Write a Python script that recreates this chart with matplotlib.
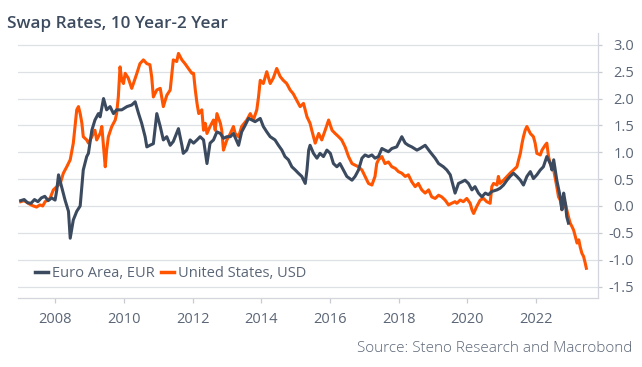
import matplotlib
matplotlib.use("Agg")
import matplotlib.pyplot as plt

plt.rcParams['font.family'] = ['Open Sans', 'DejaVu Sans']
plt.rcParams['axes.unicode_minus'] = False

# Data (decimal years, spread in percentage points)
eur_years = [2007.00, 2007.10, 2007.20, 2007.30, 2007.40, 2007.50, 2007.60, 2007.70, 2007.80, 2007.90,
             2008.00, 2008.05, 2008.10, 2008.19, 2008.29, 2008.39, 2008.44, 2008.53, 2008.63, 2008.73,
             2008.78, 2008.82, 2008.92, 2008.97, 2009.07, 2009.16, 2009.26, 2009.31, 2009.41, 2009.50,
             2009.60, 2009.70, 2009.79, 2009.94, 2010.09, 2010.23, 2010.33, 2010.43, 2010.52, 2010.62,
             2010.67, 2010.76, 2010.86, 2010.96, 2011.06, 2011.15, 2011.25, 2011.35, 2011.44, 2011.59,
             2011.69, 2011.73, 2011.83, 2011.93, 2012.03, 2012.13, 2012.22, 2012.32, 2012.42, 2012.51,
             2012.61, 2012.71, 2012.81, 2012.90, 2013.00, 2013.10, 2013.19, 2013.34, 2013.43, 2013.53,
             2013.63, 2013.73, 2013.82, 2013.97, 2014.06, 2014.16, 2014.26, 2014.40, 2014.50, 2014.60,
             2014.69, 2014.79, 2014.89, 2014.99, 2015.08, 2015.18, 2015.28, 2015.33, 2015.38, 2015.42,
             2015.52, 2015.62, 2015.71, 2015.81, 2015.91, 2016.01, 2016.10, 2016.20, 2016.29, 2016.39,
             2016.49, 2016.64, 2016.73, 2016.83, 2016.93, 2017.02, 2017.12, 2017.22, 2017.31, 2017.41,
             2017.51, 2017.60, 2017.70, 2017.80, 2017.94, 2018.09, 2018.19, 2018.28, 2018.38, 2018.53,
             2018.62, 2018.77, 2018.91, 2019.06, 2019.16, 2019.30, 2019.40, 2019.50, 2019.59, 2019.64,
             2019.74, 2019.84, 2019.93, 2020.03, 2020.13, 2020.22, 2020.32, 2020.42, 2020.52, 2020.61,
             2020.71, 2020.86, 2020.95, 2021.05, 2021.15, 2021.24, 2021.34, 2021.44, 2021.54, 2021.63,
             2021.73, 2021.83, 2021.92, 2022.02, 2022.12, 2022.21, 2022.31, 2022.41, 2022.46, 2022.51,
             2022.60, 2022.70, 2022.75, 2022.80, 2022.85, 2022.89, 2022.94]
eur_vals = [0.10, 0.12, 0.06, 0.05, 0.12, 0.08, 0.15, 0.18, 0.10, 0.15,
            0.11, 0.30, 0.58, 0.36, 0.11, -0.10, -0.60, -0.26, -0.10, 0.00,
            0.36, 0.67, 0.92, 0.98, 1.41, 1.60, 1.72, 1.66, 2.00, 1.79,
            1.85, 1.72, 1.79, 1.79, 1.85, 1.88, 1.94, 1.72, 1.54, 1.29,
            1.10, 1.13, 1.16, 1.72, 1.48, 1.23, 1.29, 1.13, 1.20, 1.44,
            1.13, 0.98, 1.04, 1.23, 1.17, 1.23, 1.29, 1.23, 0.79, 1.17,
            1.23, 1.38, 1.35, 1.26, 1.29, 1.29, 1.35, 1.13, 1.38, 1.50,
            1.63, 1.60, 1.57, 1.63, 1.48, 1.38, 1.29, 1.23, 1.13, 1.04,
            0.92, 0.86, 0.73, 0.67, 0.61, 0.55, 0.42, 0.67, 1.04, 1.13,
            0.98, 0.89, 0.98, 0.92, 1.04, 0.98, 0.79, 0.73, 0.79, 0.67,
            0.55, 0.48, 0.55, 0.67, 0.89, 0.95, 0.92, 0.95, 0.89, 0.92,
            1.07, 1.04, 1.01, 1.07, 1.10, 1.29, 1.17, 1.13, 1.10, 1.04,
            1.07, 1.13, 1.01, 0.89, 0.79, 0.73, 0.67, 0.58, 0.36, 0.24,
            0.42, 0.45, 0.48, 0.42, 0.30, 0.36, 0.24, 0.17, 0.24, 0.21,
            0.27, 0.30, 0.33, 0.39, 0.48, 0.55, 0.61, 0.55, 0.48, 0.39,
            0.55, 0.64, 0.51, 0.58, 0.67, 0.73, 0.92, 0.79, 0.67, 0.86,
            0.48, 0.17, -0.07, 0.24, 0.05, -0.20, -0.32]

usd_years = [2007.00, 2007.10, 2007.22, 2007.30, 2007.37, 2007.46, 2007.56, 2007.64, 2007.71, 2007.85,
             2007.95, 2008.05, 2008.15, 2008.24, 2008.34, 2008.44, 2008.53, 2008.58, 2008.63, 2008.68,
             2008.73, 2008.78, 2008.82, 2008.92, 2008.97, 2009.07, 2009.16, 2009.21, 2009.31, 2009.36,
             2009.41, 2009.46, 2009.50, 2009.55, 2009.65, 2009.75, 2009.79, 2009.84, 2009.89, 2009.94,
             2009.99, 2010.04, 2010.13, 2010.23, 2010.28, 2010.38, 2010.47, 2010.57, 2010.67, 2010.76,
             2010.81, 2010.86, 2010.96, 2011.06, 2011.15, 2011.25, 2011.35, 2011.39, 2011.44, 2011.54,
             2011.59, 2011.69, 2011.78, 2011.88, 2011.98, 2012.03, 2012.08, 2012.13, 2012.18, 2012.27,
             2012.32, 2012.37, 2012.42, 2012.51, 2012.61, 2012.66, 2012.71, 2012.81, 2012.85, 2012.90,
             2013.00, 2013.10, 2013.19, 2013.24, 2013.34, 2013.43, 2013.58, 2013.68, 2013.77, 2013.87,
             2013.92, 2013.97, 2014.06, 2014.16, 2014.26, 2014.35, 2014.45, 2014.55, 2014.64, 2014.74,
             2014.84, 2014.93, 2015.03, 2015.13, 2015.23, 2015.33, 2015.42, 2015.47, 2015.57, 2015.67,
             2015.76, 2015.86, 2015.96, 2016.06, 2016.15, 2016.25, 2016.34, 2016.44, 2016.54, 2016.64,
             2016.73, 2016.83, 2016.93, 2017.02, 2017.12, 2017.22, 2017.31, 2017.36, 2017.41, 2017.51,
             2017.60, 2017.70, 2017.80, 2017.90, 2017.99, 2018.09, 2018.19, 2018.28, 2018.38, 2018.48,
             2018.57, 2018.67, 2018.77, 2018.87, 2018.96, 2019.06, 2019.16, 2019.25, 2019.35, 2019.45,
             2019.54, 2019.64, 2019.69, 2019.79, 2019.88, 2019.98, 2020.08, 2020.13, 2020.18, 2020.27,
             2020.37, 2020.47, 2020.56, 2020.66, 2020.71, 2020.76, 2020.86, 2020.90, 2020.95, 2021.05,
             2021.15, 2021.24, 2021.34, 2021.44, 2021.49, 2021.54, 2021.59, 2021.63, 2021.68, 2021.73,
             2021.83, 2021.92, 2021.97, 2022.02, 2022.12, 2022.17, 2022.26, 2022.31, 2022.36, 2022.41,
             2022.51, 2022.60, 2022.65, 2022.70, 2022.75, 2022.85, 2022.89, 2022.94, 2022.99, 2023.04,
             2023.09, 2023.14, 2023.19, 2023.24, 2023.28, 2023.33, 2023.38, 2023.43, 2023.46]
usd_vals = [0.08, 0.10, 0.05, 0.02, 0.00, -0.02, 0.02, 0.00, 0.08, 0.14,
            0.30, 0.36, 0.42, 0.61, 0.73, 0.86, 1.17, 1.48, 1.79, 1.85,
            1.72, 1.54, 1.29, 1.23, 1.17, 1.29, 1.41, 1.23, 1.35, 1.48,
            1.10, 0.73, 1.04, 1.29, 1.48, 1.60, 1.72, 2.03, 2.59, 2.34,
            2.28, 2.47, 2.38, 2.19, 2.28, 2.47, 2.65, 2.72, 2.65, 2.63,
            2.41, 2.03, 2.16, 2.19, 1.85, 2.06, 2.16, 2.41, 2.72, 2.69,
            2.84, 2.72, 2.65, 2.56, 2.47, 2.47, 2.16, 1.91, 1.72, 1.79,
            1.41, 1.54, 1.35, 1.48, 1.60, 1.41, 1.72, 1.54, 1.41, 1.04,
            1.23, 1.35, 1.48, 1.35, 1.29, 1.48, 1.60, 1.72, 1.60, 1.79,
            2.03, 2.34, 2.28, 2.50, 2.28, 2.38, 2.56, 2.41, 2.34, 2.28,
            2.16, 2.09, 1.97, 1.85, 1.91, 1.66, 1.54, 1.41, 1.17, 1.35,
            1.23, 1.41, 1.60, 1.41, 1.35, 1.29, 1.23, 1.10, 0.92, 0.79,
            0.76, 0.73, 0.67, 0.55, 0.42, 0.39, 0.55, 0.79, 0.86, 0.92,
            0.79, 0.82, 0.73, 0.70, 0.64, 0.61, 0.55, 0.58, 0.45, 0.36,
            0.42, 0.30, 0.24, 0.30, 0.17, 0.14, 0.20, 0.17, 0.11, 0.02,
            0.05, 0.08, 0.05, 0.11, 0.08, 0.14, 0.05, -0.07, -0.14, -0.01,
            0.11, 0.14, 0.08, 0.05, 0.36, 0.42, 0.39, 0.55, 0.42, 0.48,
            0.55, 0.61, 0.67, 0.73, 0.86, 0.98, 1.17, 1.29, 1.41, 1.48,
            1.35, 1.29, 1.17, 0.98, 0.95, 1.04, 1.13, 1.17, 0.92, 0.79,
            0.67, 0.36, 0.17, 0.11, -0.07, 0.05, -0.07, -0.20, -0.32, -0.38,
            -0.45, -0.57, -0.69, -0.63, -0.76, -0.88, -0.94, -1.07, -1.16]

year_ticks = [2008, 2010, 2012, 2014, 2016, 2018, 2020, 2022]
value_ticks = [-1.5, -1.0, -0.5, 0.0, 0.5, 1.0, 1.5, 2.0, 2.5, 3.0]

eur_color = '#3b4a5f'
usd_color = '#ff5400'
text_color = '#5b6676'
grid_color = '#dde0e5'

fig = plt.figure(figsize=(6.42, 3.67), dpi=100)
ax = fig.add_axes([0.028, 0.187, 0.9035, 0.723])

ax.plot(usd_years, usd_vals, color=usd_color, lw=2.2, label='United States, USD', zorder=2)
ax.plot(eur_years, eur_vals, color=eur_color, lw=2.2, label='Euro Area, EUR', zorder=3)

ax.set_xlim(2006.92, 2023.80)
ax.set_ylim(-1.72, 3.22)
ax.set_xticks(year_ticks)
ax.set_xticklabels([str(y) for y in year_ticks])
ax.set_yticks(value_ticks)
ax.set_yticklabels(['%.1f' % v for v in value_ticks])

ax.yaxis.tick_right()
ax.grid(axis='y', color=grid_color, lw=0.9)
ax.set_axisbelow(True)
for s in ['top', 'left']:
    ax.spines[s].set_visible(False)
for s in ['bottom', 'right']:
    ax.spines[s].set_color('#d3d7dd')
    ax.spines[s].set_linewidth(0.9)

ax.tick_params(axis='x', colors='#c8ccd2', labelcolor=text_color, labelsize=10.5,
               length=3.5, width=0.9, pad=6)
ax.tick_params(axis='y', colors='#c8ccd2', labelcolor=text_color, labelsize=10.5,
               length=3, width=0.9, pad=23)
for lab in ax.get_yticklabels():
    lab.set_ha('right')

handles, labels = ax.get_legend_handles_labels()
leg = ax.legend(handles[::-1], labels[::-1], loc='center left', bbox_to_anchor=(0.029, 0.092),
                ncol=2, frameon=False, fontsize=10.5, handlelength=0.9, handletextpad=0.25,
                columnspacing=0.45, borderpad=0, borderaxespad=0)
for t in leg.get_texts():
    t.set_color(text_color)
for line in leg.get_lines():
    line.set_linewidth(2.5)

fig.text(7 / 642, 1 - 27.5 / 367, 'Swap Rates, 10 Year-2 Year', fontsize=12.3,
         fontweight='semibold', color='#3d4b5f', va='baseline', ha='left')
fig.text(632 / 642, 1 - 351.5 / 367, 'Source: Steno Research and Macrobond', fontsize=11,
         fontweight='light', color=text_color, va='baseline', ha='right')

fig.savefig('out.png', dpi=100)
